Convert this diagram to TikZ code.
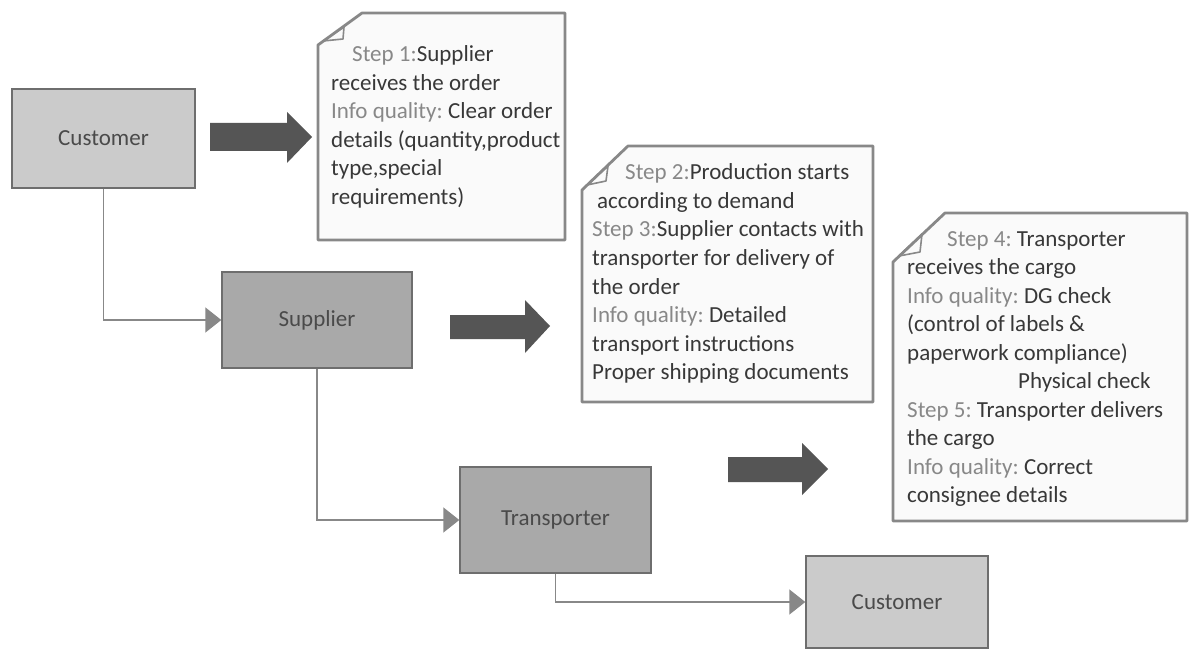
\documentclass[tikz,border=0pt]{standalone}
\usepackage{fontspec}
\setmainfont{Carlito}
\usetikzlibrary{arrows.meta}
\frenchspacing
\definecolor{boxlight}{HTML}{CBCBCB}
\definecolor{boxdark}{HTML}{A9A9A9}
\definecolor{boxline}{HTML}{6E6E6E}
\definecolor{boxtext}{HTML}{4A4A4A}
\definecolor{notefill}{HTML}{FAFAFA}
\definecolor{noteline}{HTML}{888888}
\definecolor{notetext}{HTML}{383838}
\definecolor{labtext}{HTML}{888888}
\definecolor{bigarrow}{HTML}{555555}
\definecolor{connline}{HTML}{888888}
\newcommand{\lab}[1]{\textcolor{labtext}{#1}}
\tikzset{
  actor/.style={draw=boxline, line width=1.4bp, minimum width=#1, text=boxtext,
    font=\fontsize{23bp}{28bp}\selectfont, inner sep=0pt},
  lightbox/.style={actor=183bp, fill=boxlight},
  darkbox/.style={actor=190bp, fill=boxdark},
  notetxt/.style={anchor=base west, inner sep=0pt, text=notetext,
    font=\fontsize{23bp}{28.5bp}\selectfont},
  noteshape/.style={draw=noteline, fill=notefill, line width=2.8bp, line join=round},
  foldshape/.style={draw=noteline, line width=1.6bp, line join=round},
  bigarr/.style={fill=bigarrow},
  conn/.style={draw=connline, line width=1.5bp,
    -{Triangle[length=16bp,width=25bp]}}
}
\begin{document}
\begin{tikzpicture}[x=1bp,y=-1bp]
\useasboundingbox (0,0) rectangle (1194,655);
\fill[white] (0,0) rectangle (1194,655);

% boxes
\node[lightbox, minimum height=99bp] (cust1) at (103.5,138.5) {Customer};
\node[darkbox, minimum height=96bp] (supp) at (317,320) {Supplier};
\node[darkbox, minimum width=191bp, minimum height=106bp] (trans) at (555.5,520) {Transporter};
\node[lightbox, minimum width=182bp, minimum height=92bp] (cust2) at (897,602) {Customer};

% connectors
\draw[conn] (cust1.south) |- (supp.west);
\draw[conn] (supp.south) |- (trans.west);
\draw[conn] (trans.south) |- (cust2.west);

% big arrows
\fill[bigarr] (210,123)--(287,123)--(287,112)--(312,137)--(287,163)--(287,151)--(210,151)--cycle;
\fill[bigarr] (450,315)--(525,315)--(525,300)--(550,326)--(525,353)--(525,339)--(450,339)--cycle;
\fill[bigarr] (728,457)--(802,457)--(802,443)--(828,469)--(802,495)--(802,482)--(728,482)--cycle;

% notes
\path[noteshape] (318,45)--(362,13)--(565,13)--(565,240)--(318,240)--cycle;
\path[foldshape] (323,41)--(344,27)--(343,39)--cycle;
\path[noteshape] (582,190)--(628,146)--(873,146)--(873,402)--(582,402)--cycle;
\path[foldshape] (587,185)--(608,166)--(606,181)--cycle;
\path[noteshape] (893,262)--(945,213)--(1187,213)--(1187,521)--(893,521)--cycle;
\path[foldshape] (899,256)--(922,234)--(920,252)--cycle;

\node[notetxt] (note1) at (331,62) {\parbox[t]{240bp}{\raggedright
\hspace*{21bp}\lab{Step 1:}Supplier\\
receives the order\\
\lab{Info quality:} Clear order\\
details (quantity,product\\
type,special\\
requirements)}};

\node[notetxt] (note2) at (592,180) {\parbox[t]{290bp}{\raggedright
\hspace*{33bp}\lab{Step 2:}Production starts\\
\hspace*{5bp}according to demand\\
\lab{Step 3:}Supplier contacts with\\
transporter for delivery of\\
the order\\
\lab{Info quality:} Detailed\\
transport instructions\\
Proper shipping documents}};

\node[notetxt] (note3) at (907,246) {\parbox[t]{290bp}{\raggedright
\hspace*{40bp}\lab{Step 4:} Transporter\\
receives the cargo\\
\lab{Info quality:} DG check\\
(control of labels \&\\
paperwork compliance)\\
\hspace*{111bp}Physical check\\
\lab{Step 5:} Transporter delivers\\
the cargo\\
\lab{Info quality:} Correct\\
consignee details}};
\end{tikzpicture}
\end{document}
